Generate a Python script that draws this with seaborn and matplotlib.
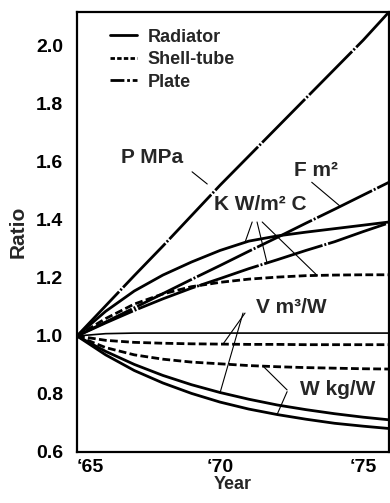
import numpy as np
import pandas as pd
import seaborn as sns
import matplotlib.pyplot as plt
from matplotlib.lines import Line2D

# --- Estilo ---
sns.set_style("white")
plt.rcParams['font.family'] = ['Liberation Sans', 'DejaVu Sans']
plt.rcParams['font.weight'] = 'bold'

# --- Dados (razão relativa a 1965) ---
anos = [1965, 1966, 1967, 1968, 1969, 1970, 1971, 1972, 1973, 1974, 1975, 1975.9]

p_placa   = [1.0, 1.104, 1.208, 1.31, 1.415, 1.52, 1.62, 1.72, 1.82, 1.92, 2.02, 2.117]
f_placa   = [1.0, 1.048, 1.097, 1.146, 1.195, 1.243, 1.292, 1.34, 1.389, 1.437, 1.486, 1.53]
k_placa   = [1.0, 1.045, 1.088, 1.128, 1.165, 1.198, 1.232, 1.263, 1.295, 1.325, 1.36, 1.39]
k_radiad  = [1.0, 1.085, 1.155, 1.21, 1.255, 1.295, 1.327, 1.345, 1.358, 1.37, 1.382, 1.393]
k_casco   = [1.0, 1.06, 1.11, 1.145, 1.17, 1.185, 1.196, 1.203, 1.208, 1.21, 1.211, 1.211]
ref_placa = [1.0, 1.008, 1.01, 1.01, 1.01, 1.01, 1.01, 1.01, 1.01, 1.01, 1.01, 1.01]
v_casco   = [1.0, 0.985, 0.978, 0.975, 0.973, 0.972, 0.971, 0.971, 0.97, 0.97, 0.97, 0.97]
w_casco   = [1.0, 0.96, 0.935, 0.92, 0.91, 0.904, 0.898, 0.894, 0.891, 0.889, 0.887, 0.886]
v_radiad  = [1.0, 0.947, 0.902, 0.864, 0.832, 0.805, 0.782, 0.762, 0.746, 0.732, 0.72, 0.711]
w_radiad  = [1.0, 0.935, 0.881, 0.838, 0.802, 0.772, 0.748, 0.729, 0.713, 0.699, 0.689, 0.681]

xticks = [1965, 1970, 1975]
xticklabels = ["\u201865", "\u201870", "\u201875"]
yticks = [0.6, 0.8, 1.0, 1.2, 1.4, 1.6, 1.8, 2.0]

# estilos de linha
SOLIDA = '-'
TRACEJADA = (0, (2.8, 1.2))
PONTO_TRACO = (0, (22, 0.7, 0.7, 0.7))
LW = 2.0

fig = plt.figure(figsize=(3.9, 5.03), dpi=100)
ax = fig.add_axes([77 / 390, 51 / 503, 312 / 390, 440 / 503])

series = [
    (p_placa, PONTO_TRACO, LW), (f_placa, PONTO_TRACO, LW), (k_placa, PONTO_TRACO, LW),
    (k_radiad, SOLIDA, LW), (k_casco, TRACEJADA, LW),
    (ref_placa, SOLIDA, 1.2),
    (v_casco, TRACEJADA, LW), (w_casco, TRACEJADA, LW),
    (v_radiad, SOLIDA, LW), (w_radiad, SOLIDA, LW),
]
for vals, ls, lw in series:
    sns.lineplot(x=anos, y=vals, ax=ax, color='black', linewidth=lw,
                 linestyle=ls, legend=False)

ax.set_xlim(1965, 1975.9)
ax.set_ylim(0.6, 2.117)

# eixos / ticks
ax.set_xticks(xticks)
ax.set_xticklabels(xticklabels)
ax.set_xticks(list(range(1966, 1976)), minor=True)
ax.set_yticks(yticks)
ax.set_yticklabels([f"{v:.1f}" for v in yticks])
ax.tick_params(axis='both', which='major', direction='in', length=5, width=1.2,
               labelsize=14, colors='black')
ax.tick_params(axis='x', which='major', pad=5)
ax.tick_params(axis='y', which='major', pad=10, length=3)
ax.tick_params(axis='x', which='minor', direction='in', length=3, width=1.0)
for lab in ax.get_xticklabels() + ax.get_yticklabels():
    lab.set_fontweight('bold')
ax.get_xticklabels()[0].set_horizontalalignment('left')

for s in ax.spines.values():
    s.set_color('black')
    s.set_linewidth(1.6)

ax.set_xlabel("Year", fontsize=13, fontweight='bold', labelpad=0)
ax.set_ylabel("Ratio", fontsize=15, fontweight='bold', labelpad=6)

# --- Rótulos e linhas de chamada ---
def chamada(x0, y0, ano, vals):
    y1 = np.interp(ano, anos, vals)
    ax.plot([x0, ano], [y0, y1], color='black', lw=0.8, zorder=4)

txt = dict(fontsize=15, fontweight='bold', ha='center', va='center', zorder=6)
ax.text(1967.62, 1.617, "P MPa", **txt)
ax.plot([1969.02, 1969.55], [1.566, 1.524], color='black', lw=0.8)

ax.text(1973.36, 1.572, "F m\u00b2", **txt)
chamada(1973.2, 1.53, 1974.2, f_placa)

ax.text(1971.4, 1.452, "K W/m\u00b2 C",
        bbox=dict(facecolor='white', edgecolor='none', pad=1), **txt)
chamada(1971.12, 1.393, 1970.87, k_radiad)
chamada(1971.29, 1.393, 1971.64, k_placa)
chamada(1971.47, 1.393, 1973.39, k_casco)

ax.text(1972.48, 1.097, "V m\u00b3/W", **txt)
chamada(1970.87, 1.079, 1970.10, v_casco)
chamada(1970.80, 1.079, 1970.00, v_radiad)

ax.text(1974.09, 0.814, "W kg/W", **txt)
chamada(1972.34, 0.814, 1971.5, w_casco)
chamada(1972.34, 0.808, 1971.99, w_radiad)

# --- Legenda ---
handles = [
    Line2D([], [], color='black', lw=LW, linestyle='-'),
    Line2D([], [], color='black', lw=LW, linestyle=(0, (1.6, 0.8))),
    Line2D([], [], color='black', lw=LW, linestyle=(0, (5, 1, 1, 1))),
]
ax.legend(handles, ["Radiator", "Shell-tube", "Plate"], loc='upper left',
          bbox_to_anchor=(33 / 312, 0.962), frameon=False, borderpad=0,
          borderaxespad=0, handlelength=1.5, handletextpad=0.6,
          labelspacing=0.3, prop=dict(size=13, weight='bold'))

fig.savefig("out.png", dpi=100)
